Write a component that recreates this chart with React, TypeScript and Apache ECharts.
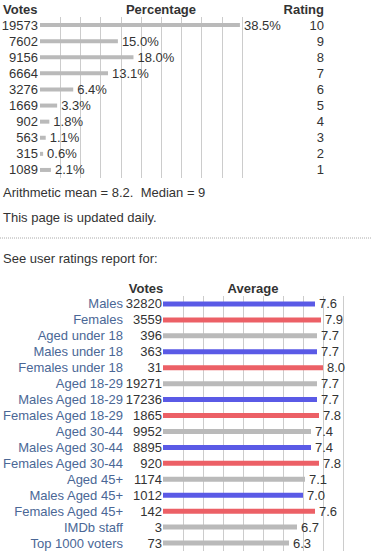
import React, { useEffect, useRef } from "react";
import * as echarts from "echarts";

const ratingLabels = ["10", "9", "8", "7", "6", "5", "4", "3", "2", "1"];
const ratingVotes = [19573, 7602, 9156, 6664, 3276, 1669, 902, 563, 315, 1089];
const ratingPct = [38.5, 15.0, 18.0, 13.1, 6.4, 3.3, 1.8, 1.1, 0.6, 2.1];

const groupNames = [
  "Males", "Females", "Aged under 18", "Males under 18", "Females under 18",
  "Aged 18-29", "Males Aged 18-29", "Females Aged 18-29", "Aged 30-44",
  "Males Aged 30-44", "Females Aged 30-44", "Aged 45+", "Males Aged 45+",
  "Females Aged 45+", "IMDb staff", "Top 1000 voters",
];
const groupVotes = [32820, 3559, 396, 363, 31, 19271, 17236, 1865, 9952, 8895, 920, 1174, 1012, 142, 3, 73];
const groupAverage = [7.6, 7.9, 7.7, 7.7, 8.0, 7.7, 7.7, 7.8, 7.4, 7.4, 7.8, 7.1, 7.0, 7.6, 6.7, 6.3];
const groupKind = ["m", "f", "a", "m", "f", "a", "m", "f", "a", "m", "f", "a", "m", "f", "a", "a"];

const FONT = "'Liberation Sans', Arial, sans-serif";
const TEXT = "#333";
const LINK = "#4a6796";
const GRID = "#cccccc";
const GRAY = "#bababa";
const BLUE = "#5a5ae6";
const RED = "#ec6066";

export default function App() {
  const ref = useRef<HTMLDivElement>(null);
  useEffect(() => {
    if (!ref.current) return;
    const chart = echarts.init(ref.current, undefined, { renderer: "svg" });
    const kindColor = (k: string) => (k === "m" ? BLUE : k === "f" ? RED : GRAY);
    const txt = (x: number, y: number, text: string, opts: any = {}) => ({
      type: "text",
      x,
      y,
      style: {
        text,
        fontFamily: FONT,
        fontSize: 13,
        fill: TEXT,
        textVerticalAlign: "middle",
        ...opts,
      },
    });
    const catLabel = (extra: any) => ({
      interval: 0,
      color: TEXT,
      fontSize: 13,
      fontFamily: FONT,
      ...extra,
    });
    chart.setOption({
      animation: false,
      textStyle: { fontFamily: FONT },
      grid: [
        { left: 40, top: 17, width: 202, height: 161, outerBoundsMode: "none", containLabel: false },
        { left: 163, top: 296, width: 180, height: 255, outerBoundsMode: "none", containLabel: false },
      ],
      xAxis: [
        {
          gridIndex: 0,
          type: "value",
          min: 0,
          max: 38.9,
          interval: 3.89,
          axisLabel: { show: false },
          axisLine: { show: false },
          axisTick: { show: false },
          splitLine: { show: true, showMinLine: false, lineStyle: { color: GRID, width: 1 } },
        },
        {
          gridIndex: 1,
          type: "value",
          min: 0,
          max: 9,
          interval: 1,
          axisLabel: { show: false },
          axisLine: { show: false },
          axisTick: { show: false },
          splitLine: { show: true, showMinLine: false, lineStyle: { color: GRID, width: 1 } },
        },
      ],
      yAxis: [
        {
          gridIndex: 0,
          type: "category",
          position: "left",
          inverse: true,
          data: ratingVotes.map(String),
          axisLine: { show: false },
          axisTick: { show: false },
          axisLabel: catLabel({ margin: 2 }),
        },
        {
          gridIndex: 0,
          type: "category",
          position: "right",
          inverse: true,
          data: ratingLabels,
          axisLine: { show: false },
          axisTick: { show: false },
          axisLabel: catLabel({ margin: 82, align: "right" }),
        },
        {
          gridIndex: 1,
          type: "category",
          position: "left",
          inverse: true,
          data: groupVotes.map(String),
          axisLine: { show: false },
          axisTick: { show: false },
          axisLabel: catLabel({ margin: 1 }),
        },
        {
          gridIndex: 1,
          type: "category",
          position: "left",
          inverse: true,
          offset: 39,
          data: groupNames,
          axisLine: { show: false },
          axisTick: { show: false },
          axisLabel: catLabel({ margin: 1, color: LINK }),
        },
      ],
      series: [
        {
          type: "bar",
          xAxisIndex: 0,
          yAxisIndex: 0,
          data: ratingPct,
          barWidth: 4,
          itemStyle: { color: GRAY },
          label: {
            show: true,
            position: "right",
            distance: 4,
            color: TEXT,
            fontSize: 13,
            fontFamily: FONT,
            formatter: (p: any) => `${Number(p.value).toFixed(1)}%`,
          },
        },
        {
          type: "bar",
          xAxisIndex: 1,
          yAxisIndex: 2,
          barWidth: 5,
          data: groupAverage.map((v, i) => ({ value: v, itemStyle: { color: kindColor(groupKind[i]) } })),
          label: {
            show: true,
            position: "right",
            distance: 4,
            color: TEXT,
            fontSize: 13,
            fontFamily: FONT,
            formatter: (p: any) => Number(p.value).toFixed(1),
          },
        },
      ],
      graphic: [
        txt(3, 9, "Votes", { fontWeight: "bold" }),
        txt(161, 9, "Percentage", { fontWeight: "bold", textAlign: "center" }),
        txt(324, 9, "Rating", { fontWeight: "bold", textAlign: "right" }),
        txt(3, 192, "Arithmetic mean = 8.2.  Median = 9"),
        txt(3, 217, "This page is updated daily."),
        {
          type: "line",
          shape: { x1: 0, y1: 238, x2: 371, y2: 238 },
          style: { stroke: "#aaa", lineWidth: 1, lineDash: [1, 1] },
        },
        txt(3, 258, "See user ratings report for:"),
        txt(146, 288, "Votes", { fontWeight: "bold", textAlign: "center" }),
        txt(253, 288, "Average", { fontWeight: "bold", textAlign: "center" }),
      ],
    });
    return () => chart.dispose();
  }, []);
  return (
    <div
      ref={ref}
      style={{ position: "fixed", left: 0, top: 0, width: 371, height: 552, background: "#fff" }}
    />
  );
}
